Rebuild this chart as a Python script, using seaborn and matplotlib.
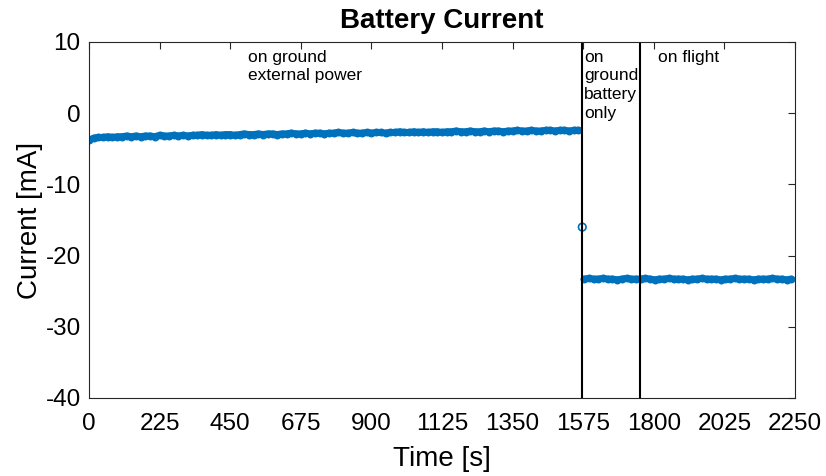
import numpy as np
import pandas as pd
import matplotlib
matplotlib.use("Agg")
import matplotlib.pyplot as plt
import seaborn as sns

# Battery current readings (mA)
t_ground_ext = np.arange(0, 1561, 15)
i_ground_ext = [
    -3.8, -3.5, -3.4, -3.4, -3.3, -3.4, -3.3, -3.3, -3.2, -3.3,
    -3.2, -3.3, -3.2, -3.2, -3.3, -3.1, -3.2, -3.2, -3.1, -3.2,
    -3.1, -3.2, -3.1, -3.1, -3.0, -3.1, -3.1, -3.0, -3.1, -3.0,
    -3.0, -3.1, -3.0, -2.9, -3.0, -3.0, -2.9, -3.0, -2.9, -2.9,
    -3.0, -2.9, -2.9, -2.8, -2.9, -2.9, -2.8, -2.9, -2.8, -2.8,
    -2.9, -2.8, -2.8, -2.7, -2.8, -2.8, -2.7, -2.8, -2.8, -2.7,
    -2.8, -2.7, -2.7, -2.8, -2.7, -2.7, -2.6, -2.7, -2.7, -2.6,
    -2.7, -2.6, -2.7, -2.6, -2.6, -2.7, -2.6, -2.6, -2.5, -2.6,
    -2.6, -2.5, -2.6, -2.6, -2.5, -2.6, -2.5, -2.5, -2.6, -2.5,
    -2.5, -2.4, -2.5, -2.5, -2.4, -2.5, -2.5, -2.4, -2.4, -2.5,
    -2.4, -2.4, -2.5, -2.4, -2.4,
]

t_switch = [1572]
i_switch = [-16.0]

t_battery = np.arange(1578, 2239, 15)
i_battery = [
    -23.3, -23.2, -23.3, -23.3, -23.2, -23.3, -23.3, -23.4, -23.3, -23.2,
    -23.3, -23.3, -23.3, -23.2, -23.3, -23.4, -23.3, -23.3, -23.2, -23.3,
    -23.3, -23.3, -23.4, -23.3, -23.3, -23.2, -23.3, -23.3, -23.3, -23.4,
    -23.3, -23.3, -23.2, -23.3, -23.3, -23.3, -23.4, -23.3, -23.3, -23.3,
    -23.2, -23.3, -23.3, -23.4, -23.3,
]

phase_bounds = [1572, 1757]
phase_labels = ["on ground\nexternal power", "on\nground\nbattery\nonly", "on flight"]
phase_label_x = [507, 1578, 1813]

x_ticks = np.arange(0, 2251, 225)
y_ticks = np.arange(-40, 11, 10)

blue = "#0072BD"

sns.set_style("white")
plt.rcParams['font.family'] = ['Liberation Sans', 'DejaVu Sans']
plt.rcParams['axes.unicode_minus'] = False

fig = plt.figure(figsize=(8.26, 4.76), dpi=100)
ax = fig.add_axes([0.1077, 0.1639, 0.8548, 0.7479])

df_ext = pd.DataFrame({"t": t_ground_ext, "i": i_ground_ext})
df_bat = pd.DataFrame({"t": t_battery, "i": i_battery})
df_sw = pd.DataFrame({"t": t_switch, "i": i_switch})

for d in (df_ext, df_bat):
    sns.lineplot(data=d, x="t", y="i", ax=ax, color=blue, linewidth=5,
                 marker="o", markersize=4.5, markerfacecolor="none",
                 markeredgecolor=blue, markeredgewidth=1.2)
sns.scatterplot(data=df_sw, x="t", y="i", ax=ax, marker="o", s=30,
                facecolor="none", edgecolor=blue, linewidth=1.2)

for xb in phase_bounds:
    ax.axvline(xb, color="black", linewidth=1.5)

for lab, xl in zip(phase_labels, phase_label_x):
    ax.text(xl, 8.9, lab, fontsize=12.5, va="top", ha="left",
            linespacing=1.3, color="black")

ax.set_xlim(0, 2250)
ax.set_ylim(-40, 10)
ax.set_xticks(x_ticks)
ax.set_yticks(y_ticks)
ax.tick_params(axis="both", direction="in", length=5, width=0.8,
               labelsize=17.5, top=True, right=True, colors="#262626",
               labelcolor="black")
ax.tick_params(axis="x", pad=11)
ax.tick_params(axis="y", pad=6)
for s in ax.spines.values():
    s.set_color("#262626")
    s.set_linewidth(0.8)

ax.set_title("Battery Current", fontsize=20, fontweight="bold", pad=10,
             color="black")
ax.set_xlabel("Time [s]", fontsize=20, labelpad=8, color="black")
ax.set_ylabel("Current [mA]", fontsize=20, labelpad=2, color="black")

fig.savefig("out.png", dpi=100)
